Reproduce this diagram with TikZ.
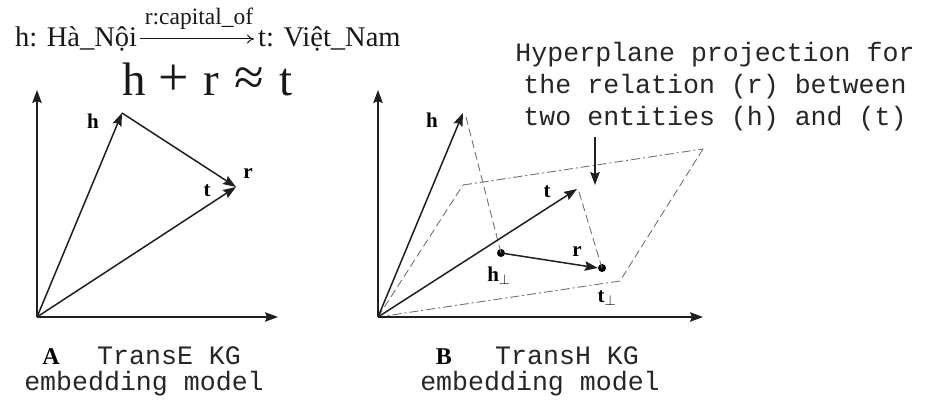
\documentclass[tikz,border=0pt]{standalone}
\usepackage{fontspec}
\setmainfont{Liberation Serif}
\setmonofont{Liberation Mono}
\usetikzlibrary{arrows.meta}
\begin{document}
\begin{tikzpicture}[x=1pt,y=-1pt,
  vec/.style={line width=1.5pt, draw=black!88, -{Stealth[length=13pt,width=9.5pt,inset=2pt]}},
  lbl/.style={font=\fontsize{21}{21}\selectfont\bfseries, inner sep=0pt},
  plane/.style={draw=black!55, line width=0.9pt, dash pattern=on 9pt off 3pt on 2pt off 3pt},
  proj/.style={draw=black!55, line width=0.9pt, dash pattern=on 8pt off 4pt},
  mono/.style={font=\fontsize{26.6}{32}\selectfont\ttfamily, inner sep=0pt, text=black!85},
  ttl/.style={font=\fontsize{28.5}{30}\selectfont, inner sep=0pt, text=black!90},
  big/.style={font=\fontsize{47}{47}\selectfont, inner sep=0pt, text=black!90},
  bigop/.style={font=\fontsize{54}{54}\selectfont, inner sep=0pt, text=black!90},
  capl/.style={font=\fontsize{24}{24}\selectfont\bfseries, inner sep=0pt},
  dot/.style={circle, fill=black, inner sep=0pt, minimum size=8pt}
]
\useasboundingbox (0,0) rectangle (930,406);

% ---------- title ----------
\node[ttl, anchor=base west] (hn) at (15,47) {h: Hà\_Nội};
\node[ttl, anchor=base west] (vn) at (258,47) {t: Việt\_Nam};
\coordinate (ra) at (140,39);
\coordinate (rb) at (254,39);
\draw[line width=1pt, black!90, -{To[length=7pt,width=9pt]}] (ra) -- (rb);
\node[font=\fontsize{23.5}{24}\selectfont, inner sep=0pt, anchor=base, text=black!90] (rcap) at (199,25) {r:capital\_of};

\node[big, anchor=base] (e1) at (134,96) {h};
\node[bigop, anchor=base] (e2) at (173.5,96) {+};
\node[big, anchor=base] (e3) at (211.5,96) {r};
\node[bigop, anchor=base] (e4) at (249,96) {≈};
\node[big, anchor=base] (e5) at (286.5,96) {t};

% ---------- panel A ----------
\coordinate (OA) at (37,317);
\coordinate (YA) at (37,90);
\coordinate (XA) at (278,317);
\coordinate (hA) at (122,113);
\coordinate (tA) at (236,187);
\draw[vec] (OA) -- (YA);
\draw[vec] (OA) -- (XA);
\draw[vec] (OA) -- (hA);
\draw[vec] (OA) -- (tA);
\draw[vec] (hA) -- (tA);
\node[lbl] (lhA) at (93,121) {h};
\node[lbl] (ltA) at (207,191) {t};
\node[lbl] (lrA) at (248,174) {r};

% ---------- panel B ----------
\coordinate (OB) at (378,317);
\coordinate (YB) at (378,90);
\coordinate (XB) at (703,317);
\coordinate (hB) at (463,113);
\coordinate (tB) at (577,189);
\coordinate (P1) at (463,185);
\coordinate (P2) at (703,149);
\coordinate (P3) at (620,281);
\coordinate (hs) at (466,117);
\coordinate (ts) at (579,192);

\draw[proj] (OB) -- (P1);
\draw[plane] (P1) -- (P2);
\draw[proj] (P2) -- (P3);
\draw[plane] (P3) -- (OB);

\node[dot] (hp) at (501,253) {};
\node[dot] (tp) at (602,268) {};
\draw[proj] (hs) -- (hp.center);
\draw[proj] (ts) -- (tp.center);

\draw[vec] (OB) -- (YB);
\draw[vec] (OB) -- (XB);
\draw[vec] (OB) -- (hB);
\draw[vec] (OB) -- (tB);
\draw[vec] (hp.center) -- (tp.west);

\node[lbl] (lhB) at (432,120) {h};
\node[lbl] (ltB) at (547,192) {t};
\node[lbl] (lrB) at (577,252) {r};
\node[lbl] (lhp) at (499,276) {h$_{\perp}$};
\node[lbl] (ltp) at (607,298) {t$_{\perp}$};

% ---------- annotation ----------
\node[mono, anchor=base] (n1) at (715,62) {Hyperplane projection for};
\node[mono, anchor=base] (n2) at (715,94) {the relation (r) between};
\node[mono, anchor=base] (n3) at (715,126) {two entities (h) and (t)};
\coordinate (aa) at (595,137);
\coordinate (ab) at (595,185);
\draw[vec, line width=1.3pt] (aa) -- (ab);

% ---------- captions ----------
\node[capl, anchor=base] (ca) at (51,365) {A};
\node[mono, anchor=base west] (ca1) at (97,365) {TransE KG};
\node[mono, anchor=base] (ca2) at (144,391) {embedding model};
\node[capl, anchor=base] (cb) at (444,365) {B};
\node[mono, anchor=base west] (cb1) at (495,365) {TransH KG};
\node[mono, anchor=base] (cb2) at (540,391) {embedding model};
\end{tikzpicture}
\end{document}
